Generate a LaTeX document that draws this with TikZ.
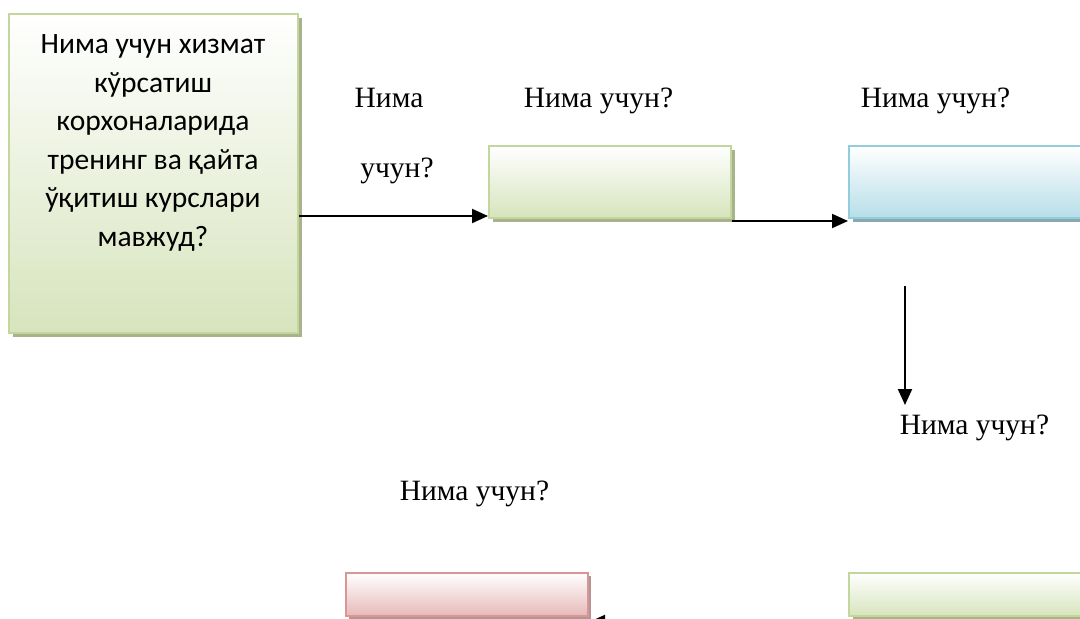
\documentclass[tikz,border=0pt]{standalone}
\usepackage{fontspec}
\setmainfont{Liberation Serif}
\newfontfamily\calib{Carlito}
\usetikzlibrary{arrows.meta,shadows}
\definecolor{gborder}{HTML}{C3D69B}
\definecolor{gfill}{HTML}{D7E4BD}
\definecolor{gshadow}{HTML}{A8B38C}
\definecolor{bborder}{HTML}{92CDDC}
\definecolor{bfill}{HTML}{B7DEE8}
\definecolor{bshadow}{HTML}{8AA8B0}
\definecolor{rborder}{HTML}{D99694}
\definecolor{rfill}{HTML}{E6B9B8}
\definecolor{rshadow}{HTML}{B39595}
\begin{document}
\begin{tikzpicture}[x=1pt,y=-1pt,
  box/.style={anchor=north west, inner sep=0pt, line width=2pt},
  gbox/.style={box, draw=gborder, top color=white, bottom color=gfill,
     drop shadow={shadow xshift=4pt, shadow yshift=-4pt, fill=gshadow, opacity=1}},
  bbox/.style={box, draw=bborder, top color=white, bottom color=bfill,
     drop shadow={shadow xshift=4pt, shadow yshift=-4pt, fill=bshadow, opacity=1}},
  rbox/.style={box, draw=rborder, top color=white, bottom color=rfill,
     drop shadow={shadow xshift=3pt, shadow yshift=-3pt, fill=rshadow, opacity=1}},
  lbl/.style={font=\fontsize{29.5}{36}\selectfont, inner sep=0pt, anchor=base},
  arr/.style={line width=2pt, -{Triangle[length=16pt,width=14pt]}}]
\useasboundingbox (0,0) rectangle (1080,619);
\clip (0,0) rectangle (1080,619);
% boxes
\node[gbox, minimum width=289pt, minimum height=319pt] (b0) at (8,13) {};
\node[align=center, inner sep=0pt, font=\calib\fontsize{29.5}{38.5}\selectfont] (t0) at (153,143)
  {Нима учун хизмат\\кўрсатиш\\корхоналарида\\тренинг ва қайта\\ўқитиш курслари\\мавжуд?};
\node[gbox, minimum width=242pt, minimum height=72pt] (b1) at (488,145) {};
\node[bbox, minimum width=250pt, minimum height=72pt] (b2) at (848,145) {};
\node[rbox, minimum width=242pt, minimum height=43pt] (b3) at (345,572) {};
\node[gbox, minimum width=250pt, minimum height=43pt] (b4) at (848,572) {};
% labels
\node[lbl] (l1a) at (389,107) {Нима};
\node[lbl] (l1b) at (397,177) {учун?};
\node[lbl] (l2) at (598.5,107) {Нима учун?};
\node[lbl] (l3) at (935.5,107) {Нима учун?};
\node[lbl] (l4) at (974.5,434) {Нима учун?};
\node[lbl] (l5) at (474.5,500) {Нима учун?};
% connectors
\coordinate (d1) at (905,286);
\coordinate (d2) at (905,405);
\coordinate (p1) at (848,622);
\draw[arr] (b0.east |- 0,216) -- (b1.west |- 0,216);
\draw[arr] (b1.east |- 0,221) -- (b2.west |- 0,221);
\draw[arr] (d1) -- (d2);
\draw[arr] (p1) -- (b3.east |- 0,622);
\end{tikzpicture}
\end{document}
